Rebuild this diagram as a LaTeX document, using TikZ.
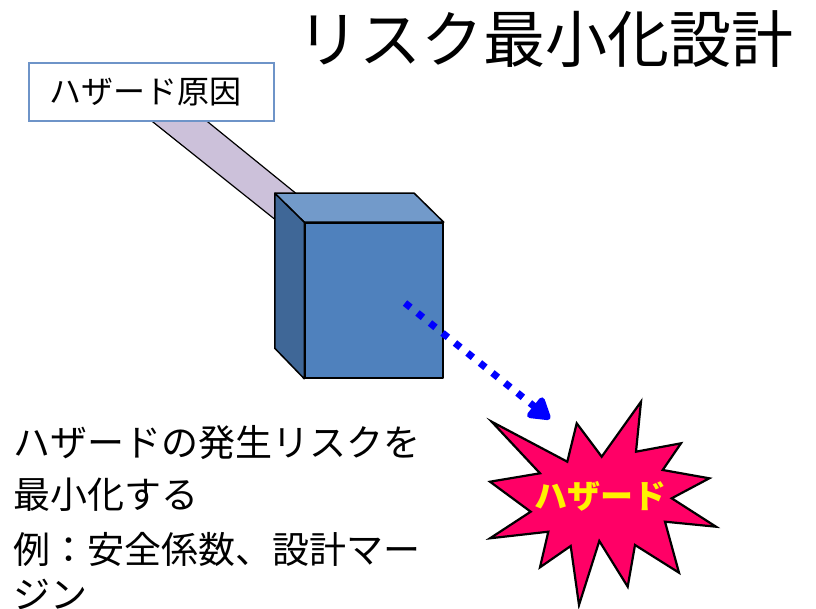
\documentclass[tikz,border=0pt]{standalone}
\usepackage{fontspec}
\setmainfont{Noto Sans CJK JP}
\usetikzlibrary{arrows.meta}
\definecolor{frontblue}{RGB}{79,129,189}
\definecolor{topblue}{RGB}{114,154,202}
\definecolor{sideblue}{RGB}{63,103,151}
\definecolor{beamlilac}{RGB}{204,193,218}
\definecolor{boxblue}{RGB}{110,148,200}
\definecolor{burstpink}{RGB}{255,0,102}

\begin{document}
\begin{tikzpicture}[x=1pt,y=-1pt,
    face/.style={draw=black,line width=1.5pt,line join=round},
    causebox/.style={draw=boxblue,line width=1.5pt,fill=white,minimum width=245,minimum height=58,
        inner xsep=20pt,text width=205pt,align=left,font=\fontsize{32}{36}\selectfont},
    bodytext/.style={inner sep=0pt,align=left},
    riskarrow/.style={blue,line width=7pt,dash pattern=on 7pt off 9pt,
        -{Triangle[length=24pt,width=28pt,round]}}]
    \useasboundingbox (0,0) rectangle (816,609);

    \node[anchor=base,font=\fontsize{62}{70}\selectfont] (title) at (545,63) {リスク最小化設計};

    % beam from the cause to the cube
    \draw[fill=beamlilac,line width=1.2pt] (151.7,121) -- (290,231.4) -- (310,204.8) -- (206.7,121) -- cycle;
    \node[causebox] (cause) at (151.5,92) {ハザード原因};

    % cube
    \node[face,fill=frontblue,minimum width=138,minimum height=155,inner sep=0pt] (cubefront) at (374,300.5) {};
    \draw[face,fill=topblue] (cubefront.north west) -- ++(-29.5,-29) -- ++(139.5,0) -- (cubefront.north east) -- cycle;
    \draw[face,fill=sideblue] (cubefront.north west) -- ++(-29.5,-29) -- ++(0,155) -- (cubefront.south west) -- cycle;

    \coordinate (arrowstart) at (405,303);
    \coordinate (arrowend) at (550,419);
    \draw[riskarrow] (arrowstart) -- (arrowend);

    % hazard burst
    \draw[fill=burstpink,line width=2.2pt,line join=miter] (491.7,421.7) -- (567.3,461.7) -- (576.7,423.3) -- (601.7,456.7)
        -- (641,401.7) -- (636,451.7) -- (681,443.3) -- (662.7,470) -- (709.3,478.3) -- (671.7,498.3)
        -- (716,526.7) -- (665,521.7) -- (679,572.7) -- (635,545) -- (627.7,586.7) -- (599.3,541)
        -- (579,605) -- (570.7,546) -- (540,567.3) -- (548.3,531.7) -- (490,538.3) -- (530.7,511.7)
        -- (490,481.7) -- (540,473.3) -- cycle;
    \node[yellow,font=\fontsize{33}{36}\selectfont\bfseries] (hazard) at (600,496) {ハザード};

    \node[bodytext,anchor=base west,font=\fontsize{37}{52}\selectfont] (goal) at (13,508) {ハザードの発生リスクを\\最小化する};
    \node[bodytext,anchor=base west,font=\fontsize{37}{45}\selectfont] (example) at (13,608) {例：安全係数、設計マー\\ジン};
\end{tikzpicture}
\end{document}
